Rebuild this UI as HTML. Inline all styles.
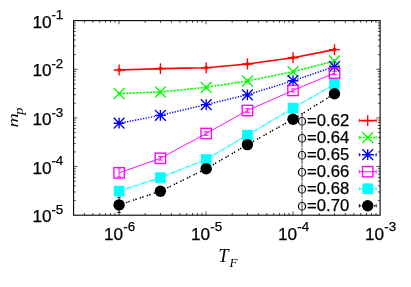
<!DOCTYPE html>
<html><head><meta charset="utf-8"><title>plot</title>
<style>
html,body{margin:0;padding:0;background:#fff;}
body{width:411px;height:287px;overflow:hidden;}
svg text{font-family:"Liberation Sans",sans-serif;fill:#000;stroke:#000;stroke-width:0.25px;}
svg text.t{font-size:17px;}
svg text.t16{font-size:17.2px;}
svg text.t13{font-size:13.4px;}
svg text.it{font-family:"Liberation Serif",serif;font-style:italic;stroke:none;}
</style></head><body>
<svg width="411" height="287" viewBox="0 0 411 287" style="display:block;will-change:transform;opacity:0.999">
<rect width="411" height="287" fill="#fff"/>
<polyline points="119.10,70.00 160.40,68.60 206.20,67.80 247.40,64.00 293.00,57.70 334.50,49.60" fill="none" stroke="#ff0000" stroke-width="1.6"/>
<path d="M119.10 68.90V71.10" stroke="#ff0000" stroke-width="0.9" fill="none"/><path d="M117.40 68.90h3.4M117.40 71.10h3.4" stroke="#ff0000" stroke-width="0.9" fill="none"/>
<path d="M113.70 70.00H124.50M119.10 64.60V75.40" stroke="#ff0000" stroke-width="1.35" fill="none"/>
<path d="M160.40 67.50V69.70" stroke="#ff0000" stroke-width="0.9" fill="none"/><path d="M158.70 67.50h3.4M158.70 69.70h3.4" stroke="#ff0000" stroke-width="0.9" fill="none"/>
<path d="M155.00 68.60H165.80M160.40 63.20V74.00" stroke="#ff0000" stroke-width="1.35" fill="none"/>
<path d="M206.20 66.70V68.90" stroke="#ff0000" stroke-width="0.9" fill="none"/><path d="M204.50 66.70h3.4M204.50 68.90h3.4" stroke="#ff0000" stroke-width="0.9" fill="none"/>
<path d="M200.80 67.80H211.60M206.20 62.40V73.20" stroke="#ff0000" stroke-width="1.35" fill="none"/>
<path d="M247.40 62.90V65.10" stroke="#ff0000" stroke-width="0.9" fill="none"/><path d="M245.70 62.90h3.4M245.70 65.10h3.4" stroke="#ff0000" stroke-width="0.9" fill="none"/>
<path d="M242.00 64.00H252.80M247.40 58.60V69.40" stroke="#ff0000" stroke-width="1.35" fill="none"/>
<path d="M293.00 56.60V58.80" stroke="#ff0000" stroke-width="0.9" fill="none"/><path d="M291.30 56.60h3.4M291.30 58.80h3.4" stroke="#ff0000" stroke-width="0.9" fill="none"/>
<path d="M287.60 57.70H298.40M293.00 52.30V63.10" stroke="#ff0000" stroke-width="1.35" fill="none"/>
<path d="M334.50 48.50V50.70" stroke="#ff0000" stroke-width="0.9" fill="none"/><path d="M332.80 48.50h3.4M332.80 50.70h3.4" stroke="#ff0000" stroke-width="0.9" fill="none"/>
<path d="M329.10 49.60H339.90M334.50 44.20V55.00" stroke="#ff0000" stroke-width="1.35" fill="none"/>
<polyline points="119.10,93.50 160.40,92.00 206.20,87.30 247.40,81.00 293.00,71.70 334.50,61.00" fill="none" stroke="#00ff00" stroke-width="1.5" stroke-dasharray="2.4 1.0"/>
<path d="M119.10 92.40V94.60" stroke="#00ff00" stroke-width="0.9" fill="none"/><path d="M117.40 92.40h3.4M117.40 94.60h3.4" stroke="#00ff00" stroke-width="0.9" fill="none"/>
<path d="M113.70 88.10L124.50 98.90M113.70 98.90L124.50 88.10" stroke="#00ff00" stroke-width="1.35" fill="none"/>
<path d="M160.40 90.90V93.10" stroke="#00ff00" stroke-width="0.9" fill="none"/><path d="M158.70 90.90h3.4M158.70 93.10h3.4" stroke="#00ff00" stroke-width="0.9" fill="none"/>
<path d="M155.00 86.60L165.80 97.40M155.00 97.40L165.80 86.60" stroke="#00ff00" stroke-width="1.35" fill="none"/>
<path d="M206.20 86.20V88.40" stroke="#00ff00" stroke-width="0.9" fill="none"/><path d="M204.50 86.20h3.4M204.50 88.40h3.4" stroke="#00ff00" stroke-width="0.9" fill="none"/>
<path d="M200.80 81.90L211.60 92.70M200.80 92.70L211.60 81.90" stroke="#00ff00" stroke-width="1.35" fill="none"/>
<path d="M247.40 79.90V82.10" stroke="#00ff00" stroke-width="0.9" fill="none"/><path d="M245.70 79.90h3.4M245.70 82.10h3.4" stroke="#00ff00" stroke-width="0.9" fill="none"/>
<path d="M242.00 75.60L252.80 86.40M242.00 86.40L252.80 75.60" stroke="#00ff00" stroke-width="1.35" fill="none"/>
<path d="M293.00 70.60V72.80" stroke="#00ff00" stroke-width="0.9" fill="none"/><path d="M291.30 70.60h3.4M291.30 72.80h3.4" stroke="#00ff00" stroke-width="0.9" fill="none"/>
<path d="M287.60 66.30L298.40 77.10M287.60 77.10L298.40 66.30" stroke="#00ff00" stroke-width="1.35" fill="none"/>
<path d="M334.50 59.90V62.10" stroke="#00ff00" stroke-width="0.9" fill="none"/><path d="M332.80 59.90h3.4M332.80 62.10h3.4" stroke="#00ff00" stroke-width="0.9" fill="none"/>
<path d="M329.10 55.60L339.90 66.40M329.10 66.40L339.90 55.60" stroke="#00ff00" stroke-width="1.35" fill="none"/>
<polyline points="119.10,123.20 160.40,115.30 206.20,104.60 247.40,94.80 293.00,80.70 334.50,66.60" fill="none" stroke="#0000ff" stroke-width="1.5" stroke-dasharray="1.25 1.45"/>
<path d="M119.10 122.10V124.30" stroke="#0000ff" stroke-width="0.9" fill="none"/><path d="M117.40 122.10h3.4M117.40 124.30h3.4" stroke="#0000ff" stroke-width="0.9" fill="none"/>
<path d="M113.70 123.20H124.50M119.10 117.80V128.60M113.70 117.80L124.50 128.60M113.70 128.60L124.50 117.80" stroke="#0000ff" stroke-width="1.35" fill="none"/>
<path d="M160.40 114.20V116.40" stroke="#0000ff" stroke-width="0.9" fill="none"/><path d="M158.70 114.20h3.4M158.70 116.40h3.4" stroke="#0000ff" stroke-width="0.9" fill="none"/>
<path d="M155.00 115.30H165.80M160.40 109.90V120.70M155.00 109.90L165.80 120.70M155.00 120.70L165.80 109.90" stroke="#0000ff" stroke-width="1.35" fill="none"/>
<path d="M206.20 103.50V105.70" stroke="#0000ff" stroke-width="0.9" fill="none"/><path d="M204.50 103.50h3.4M204.50 105.70h3.4" stroke="#0000ff" stroke-width="0.9" fill="none"/>
<path d="M200.80 104.60H211.60M206.20 99.20V110.00M200.80 99.20L211.60 110.00M200.80 110.00L211.60 99.20" stroke="#0000ff" stroke-width="1.35" fill="none"/>
<path d="M247.40 93.70V95.90" stroke="#0000ff" stroke-width="0.9" fill="none"/><path d="M245.70 93.70h3.4M245.70 95.90h3.4" stroke="#0000ff" stroke-width="0.9" fill="none"/>
<path d="M242.00 94.80H252.80M247.40 89.40V100.20M242.00 89.40L252.80 100.20M242.00 100.20L252.80 89.40" stroke="#0000ff" stroke-width="1.35" fill="none"/>
<path d="M293.00 79.60V81.80" stroke="#0000ff" stroke-width="0.9" fill="none"/><path d="M291.30 79.60h3.4M291.30 81.80h3.4" stroke="#0000ff" stroke-width="0.9" fill="none"/>
<path d="M287.60 80.70H298.40M293.00 75.30V86.10M287.60 75.30L298.40 86.10M287.60 86.10L298.40 75.30" stroke="#0000ff" stroke-width="1.35" fill="none"/>
<path d="M334.50 65.50V67.70" stroke="#0000ff" stroke-width="0.9" fill="none"/><path d="M332.80 65.50h3.4M332.80 67.70h3.4" stroke="#0000ff" stroke-width="0.9" fill="none"/>
<path d="M329.10 66.60H339.90M334.50 61.20V72.00M329.10 61.20L339.90 72.00M329.10 72.00L339.90 61.20" stroke="#0000ff" stroke-width="1.35" fill="none"/>
<polyline points="119.10,172.85 160.40,158.30 206.20,133.50 247.40,110.50 293.00,90.40 334.50,73.10" fill="none" stroke="#ff00ff" stroke-width="0.95"/>
<path d="M119.10 168.95V176.75" stroke="#ff00ff" stroke-width="0.9" fill="none"/><path d="M117.40 168.95h3.4M117.40 176.75h3.4" stroke="#ff00ff" stroke-width="0.9" fill="none"/>
<rect x="113.90" y="167.65" width="10.40" height="10.40" stroke="#ff00ff" stroke-width="1.35" fill="none"/>
<path d="M160.40 156.50V160.10" stroke="#ff00ff" stroke-width="0.9" fill="none"/><path d="M158.10 156.50h4.6M158.10 160.10h4.6" stroke="#ff00ff" stroke-width="0.9" fill="none"/>
<rect x="155.20" y="153.10" width="10.40" height="10.40" stroke="#ff00ff" stroke-width="1.35" fill="none"/>
<path d="M206.20 131.70V135.30" stroke="#ff00ff" stroke-width="0.9" fill="none"/><path d="M203.90 131.70h4.6M203.90 135.30h4.6" stroke="#ff00ff" stroke-width="0.9" fill="none"/>
<rect x="201.00" y="128.30" width="10.40" height="10.40" stroke="#ff00ff" stroke-width="1.35" fill="none"/>
<path d="M247.40 108.70V112.30" stroke="#ff00ff" stroke-width="0.9" fill="none"/><path d="M245.10 108.70h4.6M245.10 112.30h4.6" stroke="#ff00ff" stroke-width="0.9" fill="none"/>
<rect x="242.20" y="105.30" width="10.40" height="10.40" stroke="#ff00ff" stroke-width="1.35" fill="none"/>
<path d="M293.00 88.90V91.90" stroke="#ff00ff" stroke-width="0.9" fill="none"/><path d="M290.70 88.90h4.6M290.70 91.90h4.6" stroke="#ff00ff" stroke-width="0.9" fill="none"/>
<rect x="287.80" y="85.20" width="10.40" height="10.40" stroke="#ff00ff" stroke-width="1.35" fill="none"/>
<path d="M334.50 71.60V74.60" stroke="#ff00ff" stroke-width="0.9" fill="none"/><path d="M332.20 71.60h4.6M332.20 74.60h4.6" stroke="#ff00ff" stroke-width="0.9" fill="none"/>
<rect x="329.30" y="67.90" width="10.40" height="10.40" stroke="#ff00ff" stroke-width="1.35" fill="none"/>
<polyline points="119.10,191.10 160.40,177.60 206.20,159.50 247.40,135.10 293.00,108.10 334.50,84.20" fill="none" stroke="#00ffff" stroke-width="1.2" stroke-dasharray="5 0.8 1.2 0.8"/>
<rect x="113.80" y="185.80" width="10.6" height="10.6" fill="#00ffff"/>
<rect x="155.10" y="172.30" width="10.6" height="10.6" fill="#00ffff"/>
<rect x="200.90" y="154.20" width="10.6" height="10.6" fill="#00ffff"/>
<rect x="242.10" y="129.80" width="10.6" height="10.6" fill="#00ffff"/>
<rect x="287.70" y="102.80" width="10.6" height="10.6" fill="#00ffff"/>
<rect x="329.20" y="78.90" width="10.6" height="10.6" fill="#00ffff"/>
<polyline points="119.10,204.90 160.40,191.20 206.20,168.80 247.40,144.60 293.00,119.30 334.50,93.80" fill="none" stroke="#000000" stroke-width="1.5" stroke-dasharray="1.4 1.1 1.4 3.4"/>
<path d="M119.10 197.30V212.50" stroke="#000000" stroke-width="0.9" fill="none"/><path d="M117.40 197.30h3.4M117.40 212.50h3.4" stroke="#000000" stroke-width="0.9" fill="none"/>
<circle cx="119.10" cy="204.90" r="5.7" fill="#000000"/>
<circle cx="160.40" cy="191.20" r="5.7" fill="#000000"/>
<circle cx="206.20" cy="168.80" r="5.7" fill="#000000"/>
<circle cx="247.40" cy="144.60" r="5.7" fill="#000000"/>
<circle cx="293.00" cy="119.30" r="5.7" fill="#000000"/>
<circle cx="334.50" cy="93.80" r="5.7" fill="#000000"/>
<path d="M359.3 120.55H376.2" stroke="#ff0000" stroke-width="1.6" fill="none"/>
<path d="M359.3 118.85v3.4M376.2 118.85v3.4" stroke="#ff0000" stroke-width="0.9" fill="none"/>
<path d="M362.30 120.55H373.10M367.70 115.15V125.95" stroke="#ff0000" stroke-width="1.35" fill="none"/>
<path fill-rule="evenodd" fill="#000" d="M297.8 121.30a4.2 4.3 0 1 0 8.4 0a4.2 4.3 0 1 0 -8.4 0zM299.1 121.30a2.9 3.5 0 1 0 5.8 0a2.9 3.5 0 1 0 -5.8 0z"/>
<path d="M302.0 113.80V130.00" stroke="#000" stroke-width="0.75" fill="none"/>
<text x="349.2" y="125.80" text-anchor="end" class="t" textLength="42.2" lengthAdjust="spacingAndGlyphs">=0.62</text>
<path d="M359.3 137.60H376.2" stroke="#00ff00" stroke-width="1.5" fill="none" stroke-dasharray="2.4 1.0"/>
<path d="M359.3 135.90v3.4M376.2 135.90v3.4" stroke="#00ff00" stroke-width="0.9" fill="none"/>
<path d="M362.30 132.20L373.10 143.00M362.30 143.00L373.10 132.20" stroke="#00ff00" stroke-width="1.35" fill="none"/>
<path fill-rule="evenodd" fill="#000" d="M297.8 138.30a4.2 4.3 0 1 0 8.4 0a4.2 4.3 0 1 0 -8.4 0zM299.1 138.30a2.9 3.5 0 1 0 5.8 0a2.9 3.5 0 1 0 -5.8 0z"/>
<path d="M302.0 130.80V147.00" stroke="#000" stroke-width="0.75" fill="none"/>
<text x="349.2" y="142.80" text-anchor="end" class="t" textLength="42.2" lengthAdjust="spacingAndGlyphs">=0.64</text>
<path d="M359.3 154.65H376.2" stroke="#0000ff" stroke-width="1.5" fill="none" stroke-dasharray="1.25 1.45"/>
<path d="M359.3 152.95v3.4M376.2 152.95v3.4" stroke="#0000ff" stroke-width="0.9" fill="none"/>
<path d="M362.30 154.65H373.10M367.70 149.25V160.05M362.30 149.25L373.10 160.05M362.30 160.05L373.10 149.25" stroke="#0000ff" stroke-width="1.35" fill="none"/>
<path fill-rule="evenodd" fill="#000" d="M297.8 155.30a4.2 4.3 0 1 0 8.4 0a4.2 4.3 0 1 0 -8.4 0zM299.1 155.30a2.9 3.5 0 1 0 5.8 0a2.9 3.5 0 1 0 -5.8 0z"/>
<path d="M302.0 147.80V164.00" stroke="#000" stroke-width="0.75" fill="none"/>
<text x="349.2" y="159.80" text-anchor="end" class="t" textLength="42.2" lengthAdjust="spacingAndGlyphs">=0.65</text>
<path d="M359.3 171.70H376.2" stroke="#ff00ff" stroke-width="0.95" fill="none"/>
<path d="M359.3 170.00v3.4M376.2 170.00v3.4" stroke="#ff00ff" stroke-width="0.9" fill="none"/>
<rect x="362.50" y="166.50" width="10.40" height="10.40" stroke="#ff00ff" stroke-width="1.35" fill="none"/>
<path fill-rule="evenodd" fill="#000" d="M297.8 172.30a4.2 4.3 0 1 0 8.4 0a4.2 4.3 0 1 0 -8.4 0zM299.1 172.30a2.9 3.5 0 1 0 5.8 0a2.9 3.5 0 1 0 -5.8 0z"/>
<path d="M302.0 164.80V181.00" stroke="#000" stroke-width="0.75" fill="none"/>
<text x="349.2" y="176.80" text-anchor="end" class="t" textLength="42.2" lengthAdjust="spacingAndGlyphs">=0.66</text>
<path d="M359.3 188.75H376.2" stroke="#00ffff" stroke-width="1.2" fill="none" stroke-dasharray="5 0.8 1.2 0.8"/>
<path d="M359.3 187.05v3.4M376.2 187.05v3.4" stroke="#00ffff" stroke-width="0.9" fill="none"/>
<rect x="362.40" y="183.45" width="10.6" height="10.6" fill="#00ffff"/>
<path fill-rule="evenodd" fill="#000" d="M297.8 189.30a4.2 4.3 0 1 0 8.4 0a4.2 4.3 0 1 0 -8.4 0zM299.1 189.30a2.9 3.5 0 1 0 5.8 0a2.9 3.5 0 1 0 -5.8 0z"/>
<path d="M302.0 181.80V198.00" stroke="#000" stroke-width="0.75" fill="none"/>
<text x="349.2" y="193.80" text-anchor="end" class="t" textLength="42.2" lengthAdjust="spacingAndGlyphs">=0.68</text>
<path d="M359.3 205.80H376.2" stroke="#000000" stroke-width="1.5" fill="none" stroke-dasharray="1.4 1.1 1.4 3.4"/>
<path d="M359.3 204.10v3.4M376.2 204.10v3.4" stroke="#000000" stroke-width="0.9" fill="none"/>
<circle cx="367.70" cy="205.80" r="5.7" fill="#000000"/>
<path fill-rule="evenodd" fill="#000" d="M297.8 206.30a4.2 4.3 0 1 0 8.4 0a4.2 4.3 0 1 0 -8.4 0zM299.1 206.30a2.9 3.5 0 1 0 5.8 0a2.9 3.5 0 1 0 -5.8 0z"/>
<path d="M302.0 198.80V215.00" stroke="#000" stroke-width="0.75" fill="none"/>
<text x="349.2" y="210.80" text-anchor="end" class="t" textLength="42.2" lengthAdjust="spacingAndGlyphs">=0.70</text>
<path d="M119.00 215.2v-3.7M119.00 20.6v3.7M145.19 215.2v-2.2M145.19 20.6v2.2M160.51 215.2v-2.2M160.51 20.6v2.2M171.38 215.2v-2.2M171.38 20.6v2.2M179.81 215.2v-2.2M179.81 20.6v2.2M186.70 215.2v-2.2M186.70 20.6v2.2M192.52 215.2v-2.2M192.52 20.6v2.2M197.57 215.2v-2.2M197.57 20.6v2.2M202.02 215.2v-2.2M202.02 20.6v2.2M206.00 215.2v-3.7M206.00 20.6v3.7M232.19 215.2v-2.2M232.19 20.6v2.2M247.51 215.2v-2.2M247.51 20.6v2.2M258.38 215.2v-2.2M258.38 20.6v2.2M266.81 215.2v-2.2M266.81 20.6v2.2M273.70 215.2v-2.2M273.70 20.6v2.2M279.52 215.2v-2.2M279.52 20.6v2.2M284.57 215.2v-2.2M284.57 20.6v2.2M289.02 215.2v-2.2M289.02 20.6v2.2M293.00 215.2v-3.7M293.00 20.6v3.7M319.19 215.2v-2.2M319.19 20.6v2.2M334.51 215.2v-2.2M334.51 20.6v2.2M345.38 215.2v-2.2M345.38 20.6v2.2M353.81 215.2v-2.2M353.81 20.6v2.2M360.70 215.2v-2.2M360.70 20.6v2.2M366.52 215.2v-2.2M366.52 20.6v2.2M371.57 215.2v-2.2M371.57 20.6v2.2M376.02 215.2v-2.2M376.02 20.6v2.2M84.38 215.2v-2.2M84.38 20.6v2.2M92.81 215.2v-2.2M92.81 20.6v2.2M99.70 215.2v-2.2M99.70 20.6v2.2M105.52 215.2v-2.2M105.52 20.6v2.2M110.57 215.2v-2.2M110.57 20.6v2.2M115.02 215.2v-2.2M115.02 20.6v2.2M73.6 200.55h2.2M380.1 200.55h-2.2M73.6 191.99h2.2M380.1 191.99h-2.2M73.6 185.91h2.2M380.1 185.91h-2.2M73.6 181.20h2.2M380.1 181.20h-2.2M73.6 177.34h2.2M380.1 177.34h-2.2M73.6 174.09h2.2M380.1 174.09h-2.2M73.6 171.26h2.2M380.1 171.26h-2.2M73.6 168.78h2.2M380.1 168.78h-2.2M73.6 166.55h3.7M380.1 166.55h-3.7M73.6 151.90h2.2M380.1 151.90h-2.2M73.6 143.34h2.2M380.1 143.34h-2.2M73.6 137.26h2.2M380.1 137.26h-2.2M73.6 132.55h2.2M380.1 132.55h-2.2M73.6 128.69h2.2M380.1 128.69h-2.2M73.6 125.44h2.2M380.1 125.44h-2.2M73.6 122.61h2.2M380.1 122.61h-2.2M73.6 120.13h2.2M380.1 120.13h-2.2M73.6 117.90h3.7M380.1 117.90h-3.7M73.6 103.25h2.2M380.1 103.25h-2.2M73.6 94.69h2.2M380.1 94.69h-2.2M73.6 88.61h2.2M380.1 88.61h-2.2M73.6 83.90h2.2M380.1 83.90h-2.2M73.6 80.04h2.2M380.1 80.04h-2.2M73.6 76.79h2.2M380.1 76.79h-2.2M73.6 73.96h2.2M380.1 73.96h-2.2M73.6 71.48h2.2M380.1 71.48h-2.2M73.6 69.25h3.7M380.1 69.25h-3.7M73.6 54.60h2.2M380.1 54.60h-2.2M73.6 46.04h2.2M380.1 46.04h-2.2M73.6 39.96h2.2M380.1 39.96h-2.2M73.6 35.25h2.2M380.1 35.25h-2.2M73.6 31.39h2.2M380.1 31.39h-2.2M73.6 28.14h2.2M380.1 28.14h-2.2M73.6 25.31h2.2M380.1 25.31h-2.2M73.6 22.83h2.2M380.1 22.83h-2.2" stroke="#000" stroke-width="0.7" fill="none"/>
<rect x="73.6" y="20.6" width="306.5" height="194.6" fill="none" stroke="#000" stroke-width="1.1"/>
<text x="51.5" y="27.60" text-anchor="end" class="t16">10</text>
<text x="51.4" y="19.20" class="t13">-1</text>
<text x="51.5" y="76.25" text-anchor="end" class="t16">10</text>
<text x="51.4" y="67.85" class="t13">-2</text>
<text x="51.5" y="124.90" text-anchor="end" class="t16">10</text>
<text x="51.4" y="116.50" class="t13">-3</text>
<text x="51.5" y="173.55" text-anchor="end" class="t16">10</text>
<text x="51.4" y="165.15" class="t13">-4</text>
<text x="51.5" y="222.20" text-anchor="end" class="t16">10</text>
<text x="51.4" y="213.80" class="t13">-5</text>
<text x="123.10" y="239.5" text-anchor="end" class="t16">10</text>
<text x="123.30" y="231.4" class="t13">-6</text>
<text x="210.10" y="239.5" text-anchor="end" class="t16">10</text>
<text x="210.30" y="231.4" class="t13">-5</text>
<text x="297.10" y="239.5" text-anchor="end" class="t16">10</text>
<text x="297.30" y="231.4" class="t13">-4</text>
<text x="384.10" y="239.5" text-anchor="end" class="t16">10</text>
<text x="384.30" y="231.4" class="t13">-3</text>
<text x="218.2" y="261.8" class="it" font-size="18.6">T</text>
<text x="229.6" y="266.7" class="it" font-size="13.2">F</text>
<g transform="translate(17.8,127.5) rotate(-90)"><text x="0" y="0" class="it" font-size="14" transform="scale(1.42,1)">m</text><text x="0" y="0" class="it" font-size="13" transform="translate(12.7,4.9) scale(1.1,1)">p</text></g>
</svg>
</body></html>
